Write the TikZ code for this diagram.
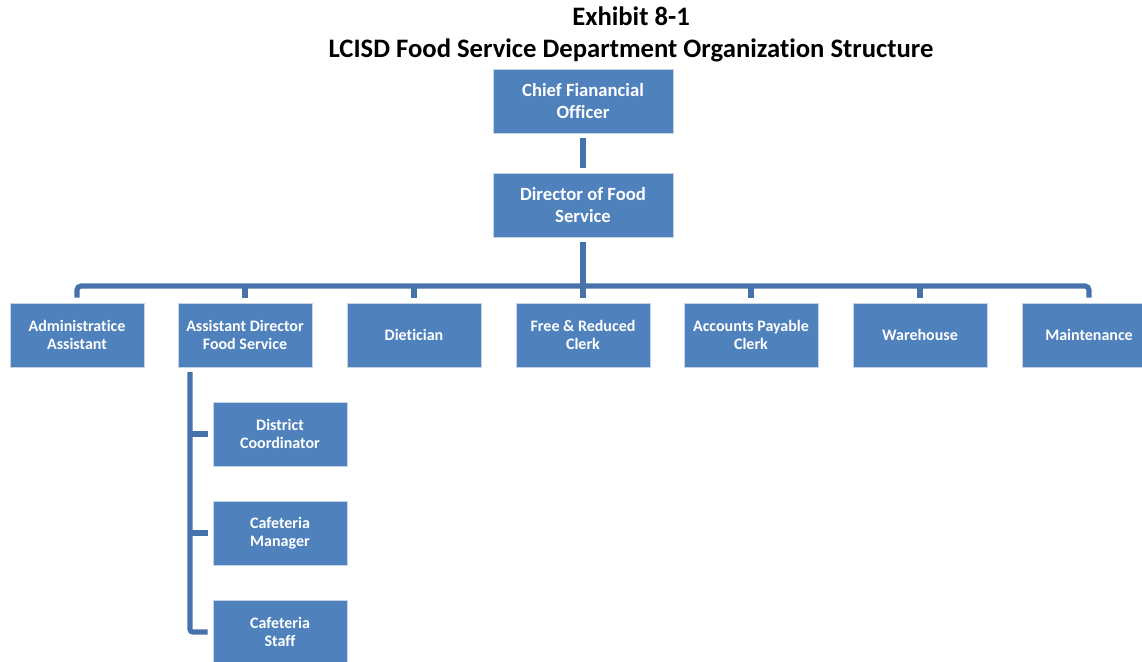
\documentclass[tikz,border=0pt]{standalone}
\usepackage{fontspec}
\setmainfont{Carlito}[Ligatures=NoCommon]
\usepackage{tikz}
\definecolor{boxblue}{HTML}{4F81BD}
\definecolor{boxedge}{HTML}{C6D4E8}
\definecolor{linkblue}{HTML}{4672AB}
\tikzset{
	post/.style={draw=boxedge, line width=0.6pt, fill=boxblue, text=white,
		font=\bfseries\fontsize{12}{13.5}\selectfont, align=center,
		minimum width=100.5pt, minimum height=48pt, inner sep=0pt, outer sep=4pt},
	head/.style={post, minimum width=135pt, font=\bfseries\fontsize{14}{15.8}\selectfont},
	conn/.style={draw=linkblue, line width=3.8pt}
}
\begin{document}
\begin{tikzpicture}[x=0.75pt,y=-0.75pt]
				\useasboundingbox (0,0) rectangle (1142,661);
				% title
				\node[font=\bfseries\fontsize{20}{24}\selectfont] (ttl) at (631,16) {Exhibit 8-1};
				\node[font=\bfseries\fontsize{20}{24}\selectfont] (sub) at (631,50) {LCISD Food Service Department Organization Structure};
				
				% top of the chart
				\node[head] (cfo) at (583,101) {Chief Fianancial\\Officer};
				\node[head] (dfs) at (583,205) {Director of Food\\Service};
				\coordinate (bus) at (583,286);
				
				% second row
				\foreach \n/\x/\t in
				{adm/77/{Administratice\\Assistant}, asst/245/{Assistant Director\\Food Service},
				 diet/414/Dietician, frc/583/{Free \& Reduced\\Clerk}, apc/751/{Accounts Payable\\Clerk},
				 ware/920/Warehouse, mnt/1089/Maintenance}{
					\node[post] (\n) at (\x,335) {\t};
				}
				
				% under the assistant director
				\foreach \n/\y/\t in
				{dc/434/{District\\Coordinator}, cm/533/{Cafeteria\\Manager}, cs/632/{Cafeteria\\Staff}}{
					\node[post] (\n) at (280,\y) {\t};
				}
				\coordinate (spine) at (190,372);
				
				\draw[conn] (cfo) -- (dfs);
				\draw[conn] (dfs.south) -- (dfs.south |- bus);
				\draw[conn, rounded corners=3pt] (adm.north) |- (bus) -| (mnt.north);
				\foreach \n in {asst,diet,frc,apc,ware}{
					\draw[conn] (\n.north) -- (\n.north |- bus);
				}
				\draw[conn, rounded corners=2pt] (spine) |- (cs.west);
				\foreach \n in {dc,cm}{
					\draw[conn] (\n.west) -- (\n.west -| spine);
				}
			\end{tikzpicture}
\end{document}
